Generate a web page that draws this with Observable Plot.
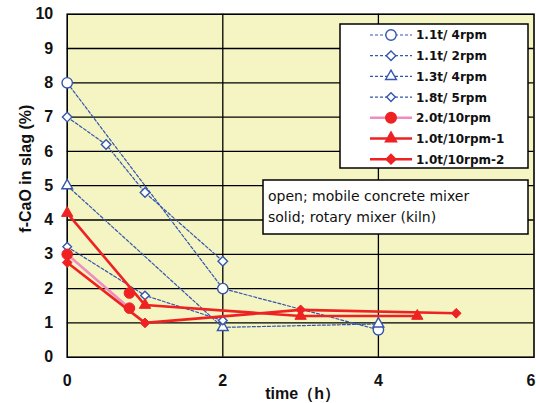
<!DOCTYPE html>
<html>
<head>
<meta charset="utf-8">
<script src="https://cdn.jsdelivr.net/npm/d3@7"></script>
<script src="https://cdn.jsdelivr.net/npm/@observablehq/plot@0.6"></script>
<style>
  html, body { margin: 0; padding: 0; background: #ffffff; }
  #chart { width: 536px; height: 403px; }
</style>
</head>
<body>
<div id="chart"></div>
<script>
// ---- data ----
const xTicks = [0, 2, 4, 6];
const yTicks = [0, 1, 2, 3, 4, 5, 6, 7, 8, 9, 10];
const xLabel = "time（h）";
const yLabel = "f-CaO in slag (%)";
const noteLines = ["open; mobile concrete mixer", "solid; rotary mixer (kiln)"];

const names = ["1.1t/ 4rpm", "1.1t/ 2rpm", "1.3t/ 4rpm", "1.8t/ 5rpm", "2.0t/10rpm", "1.0t/10rpm-1", "1.0t/10rpm-2"];
const t1 = [0, 2, 4],          v1 = [8.0, 2.0, 0.8];
const t2 = [0, 0.5, 1, 2],     v2 = [7.0, 6.2, 4.8, 2.8];
const t3 = [0, 2, 4],          v3 = [5.0, 0.87, 0.97];
const t4 = [0, 1, 2],          v4 = [3.22, 1.8, 1.07];
const t5 = [0, 0.8, 0.8],      v5 = [3.0, 1.43, 1.87];
const t6 = [0, 1, 3, 4.5],     v6 = [4.2, 1.52, 1.2, 1.2];
const t7 = [0, 1, 3, 5],       v7 = [2.76, 1.0, 1.38, 1.28];

// ---- styles ----
const blue = "#3556ad", red = "#ee2222", pink = "#f08cc0", bg = "#f5f4c3";
const styles = [
  {symbol: "circle",   r: 5.2, fill: "white", stroke: blue, line: blue, dash: "3,2", lw: 1.2},
  {symbol: "diamond2", r: 4.3, fill: "white", stroke: blue, line: blue, dash: "3,2", lw: 1.2},
  {symbol: "triangle", r: 4.0, fill: "white", stroke: blue, line: blue, dash: "3,2", lw: 1.2},
  {symbol: "diamond2", r: 3.9, fill: "white", stroke: blue, line: blue, dash: "3,2", lw: 1.2},
  {symbol: "circle",   r: 5.3, fill: red, stroke: red, line: pink, dash: null, lw: 2.6},
  {symbol: "triangle", r: 4.2, fill: red, stroke: red, line: red, dash: null, lw: 2.6},
  {symbol: "diamond2", r: 4.4, fill: red, stroke: red, line: red, dash: null, lw: 2.6}
];
const ts = [t1, t2, t3, t4, t5, t6, t7];
const vs = [v1, v2, v3, v4, v5, v6, v7];
const series = names.map((name, i) => ({
  name, style: styles[i],
  rows: ts[i].map((t, j) => ({t, v: vs[i][j]}))
}));

const W = 536, H = 403;
const mL = 66.7, mR = 2.5, mT = 13.7, mB = 46.3;
const font = "'Liberation Sans', Arial, sans-serif";
const axisStyle = {tickSize: 0, fontSize: 16, fontWeight: "bold", label: null, fill: "#111"};

const marks = [
  Plot.frame({fill: bg}),
  Plot.gridX(xTicks.slice(1, -1), {stroke: "black", strokeOpacity: 1, strokeWidth: 1.3}),
  Plot.gridY(yTicks.slice(1, -1), {stroke: "black", strokeOpacity: 1, strokeWidth: 1.3}),
  Plot.frame({stroke: "black", strokeWidth: 1.6}),
  Plot.axisX(xTicks.slice(0, -1), {...axisStyle, tickPadding: 17}),
  Plot.axisX(xTicks.slice(-1), {...axisStyle, tickPadding: 17, dx: -3}),
  Plot.axisY(yTicks, {...axisStyle, tickPadding: 14}),
  Plot.text([xLabel], {frameAnchor: "bottom", textAnchor: "middle", lineAnchor: "bottom", dx: 2, dy: 42, fontSize: 16, fontWeight: "bold", fill: "#111"}),
  Plot.text([yLabel], {frameAnchor: "left", textAnchor: "middle", lineAnchor: "middle", rotate: -90, dx: -41.7, dy: -17, fontSize: 16, fontWeight: "bold", fill: "#111"})
];
for (const i of [0, 1, 2, 3]) {
  const s = series[i];
  marks.push(Plot.line(s.rows, {x: "t", y: "v", stroke: s.style.line, strokeWidth: s.style.lw, strokeDasharray: s.style.dash}));
}
for (const k of [0, 1, 2, 3]) {
  const q = series[k];
  marks.push(Plot.dot(q.rows, {x: "t", y: "v", symbol: q.style.symbol, r: q.style.r, fill: q.style.fill, stroke: q.style.stroke, strokeWidth: 1.4}));
}
for (const i of [4, 5, 6]) {
  const s = series[i];
  const lineRows = i === 4 ? s.rows.slice(0, 2) : s.rows;
  marks.push(Plot.line(lineRows, {x: "t", y: "v", stroke: s.style.line, strokeWidth: s.style.lw}));
}
for (const k of [4, 5, 6]) {
  const q = series[k];
  marks.push(Plot.dot(q.rows, {x: "t", y: "v", symbol: q.style.symbol, r: q.style.r, fill: q.style.fill, stroke: q.style.stroke, strokeWidth: 1}));
}

const chart = Plot.plot({
  width: W, height: H,
  marginLeft: mL, marginRight: mR, marginTop: mT, marginBottom: mB,
  x: {domain: [0, 6]},
  y: {domain: [0, 10]},
  style: {fontFamily: font, background: "white", overflow: "hidden"},
  marks
});

// ---- legend and note boxes ----
const svg = d3.select(chart);
const symMap = {circle: d3.symbolCircle, diamond2: d3.symbolDiamond2, triangle: d3.symbolTriangle};
const lg = svg.append("g").attr("text-anchor", "start");
const box = {x: 340, y: 24, w: 188, h: 144};
lg.append("rect").attr("x", box.x).attr("y", box.y).attr("width", box.w).attr("height", box.h)
  .attr("fill", "white").attr("stroke", "black").attr("stroke-width", 1.5);
series.forEach((s, i) => {
  const cy = 35 + i * 20.7;
  lg.append("line").attr("x1", 370).attr("x2", 412).attr("y1", cy).attr("y2", cy)
    .attr("stroke", s.style.line).attr("stroke-width", s.style.lw)
    .attr("stroke-dasharray", s.style.dash);
  lg.append("path").attr("transform", `translate(391,${cy})`)
    .attr("d", d3.symbol(symMap[s.style.symbol], Math.PI * s.style.r * s.style.r)())
    .attr("fill", s.style.fill).attr("stroke", s.style.stroke).attr("stroke-width", 1.4);
  lg.append("text").attr("x", 416).attr("y", cy + 4.4).text(s.name)
    .attr("text-anchor", "start")
    .attr("font-family", "'DejaVu Sans', sans-serif").attr("font-weight", "bold")
    .attr("font-size", 12).attr("fill", "#111");
});
const nb = svg.append("g").attr("text-anchor", "start");
nb.append("rect").attr("x", 263).attr("y", 180).attr("width", 265).attr("height", 54)
  .attr("fill", "white").attr("stroke", "black").attr("stroke-width", 1.5);
noteLines.forEach((line, i) => {
  nb.append("text").attr("x", 268).attr("y", 200.5 + i * 21.3).text(line)
    .attr("text-anchor", "start")
    .attr("font-family", "'DejaVu Sans', sans-serif")
    .attr("font-size", 14).attr("fill", "#111");
});

document.getElementById("chart").appendChild(chart);
</script>
</body>
</html>
